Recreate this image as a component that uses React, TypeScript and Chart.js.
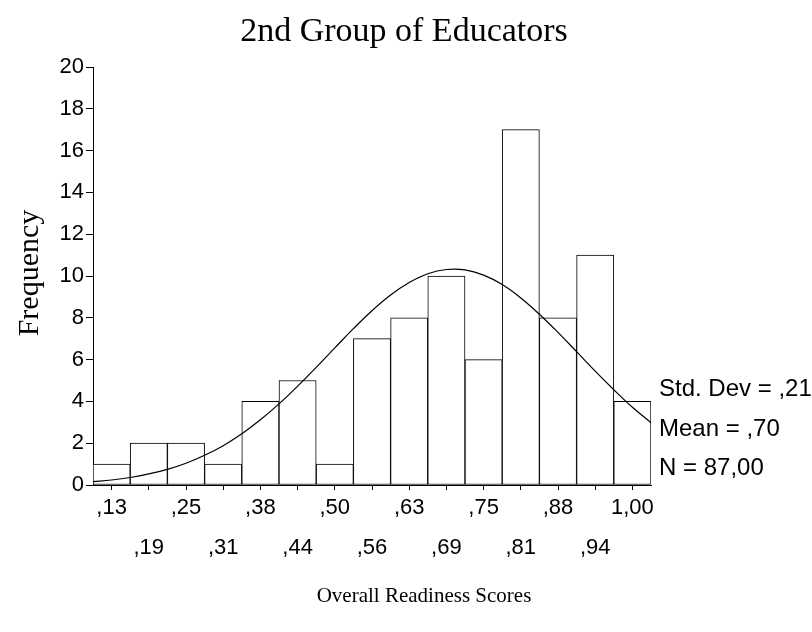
import React, { useEffect, useRef } from "react";
import { Chart, registerables } from "chart.js";

Chart.register(...registerables);

// Histogram bins (bin centres) and frequencies
const binCenters = [0.125, 0.1875, 0.25, 0.3125, 0.375, 0.4375, 0.5, 0.5625, 0.625, 0.6875, 0.75, 0.8125, 0.875, 0.9375, 1.0];
const frequencies = [1, 2, 2, 1, 4, 5, 1, 7, 8, 10, 6, 17, 8, 11, 4];
const xTickLabels = [",13", ",19", ",25", ",31", ",38", ",44", ",50", ",56", ",63", ",69", ",75", ",81", ",88", ",94", "1,00"];
const yTickValues = [0, 2, 4, 6, 8, 10, 12, 14, 16, 18, 20];

// Normal curve
const curveX = [0.09375, 0.125, 0.15625, 0.1875, 0.21875, 0.25, 0.28125, 0.3125, 0.34375, 0.375, 0.40625, 0.4375, 0.46875, 0.5, 0.53125, 0.5625, 0.59375, 0.625, 0.65625, 0.6875, 0.71875, 0.75, 0.78125, 0.8125, 0.84375, 0.875, 0.90625, 0.9375, 0.96875, 1.0, 1.03125];
const curveY = [0.16, 0.24, 0.36, 0.53, 0.75, 1.04, 1.42, 1.88, 2.45, 3.12, 3.88, 4.73, 5.63, 6.56, 7.48, 8.34, 9.09, 9.69, 10.11, 10.31, 10.29, 10.04, 9.59, 8.95, 8.17, 7.3, 6.38, 5.45, 4.56, 3.72, 2.98];

const chartTitle = "2nd Group of Educators";
const xTitle = "Overall Readiness Scores";
const yTitle = "Frequency";
const statsLines = ["Std. Dev = ,21", "Mean = ,70", "N = 87,00"];

const xMin = 0.09375;
const xMax = 1.03125;

const textPlugin = {
  id: "textPlugin",
  afterDraw(chart: any) {
    const ctx = chart.ctx;
    ctx.save();
    ctx.fillStyle = "#000";
    ctx.textBaseline = "alphabetic";
    ctx.font = "34px 'Liberation Serif', 'Times New Roman', serif";
    ctx.textAlign = "center";
    ctx.fillText(chartTitle, 404, 41);

    ctx.font = "21px 'Liberation Serif', 'Times New Roman', serif";
    ctx.fillText(xTitle, 424, 602);

    ctx.save();
    ctx.translate(38, 273);
    ctx.rotate(-Math.PI / 2);
    ctx.font = "30px 'Liberation Serif', 'Times New Roman', serif";
    ctx.textAlign = "center";
    ctx.fillText(yTitle, 0, 0);
    ctx.restore();

    ctx.font = "24px 'Liberation Sans', Arial, sans-serif";
    ctx.textAlign = "left";
    const baselines = [396, 436, 475];
    statsLines.forEach((s, i) => ctx.fillText(s, 659, baselines[i]));
    ctx.restore();
  },
};

export default function App() {
  const ref = useRef<HTMLCanvasElement | null>(null);

  useEffect(() => {
    if (!ref.current) return;
    const chart = new Chart(ref.current, {
      type: "bar",
      data: {
        datasets: [
          {
            type: "line",
            data: curveX.map((x, i) => ({ x, y: curveY[i] })),
            borderColor: "#000",
            borderWidth: 1.2,
            pointRadius: 0,
            fill: false,
            tension: 0.4,
            order: 0,
          } as any,
          {
            type: "bar",
            data: binCenters.map((x, i) => ({ x, y: frequencies[i] })),
            backgroundColor: "#fff",
            borderColor: "#000",
            borderWidth: 1,
            borderSkipped: false,
            barPercentage: 1,
            categoryPercentage: 1,
            order: 1,
          } as any,
        ],
      },
      options: {
        responsive: false,
        animation: false,
        layout: { padding: { left: 0, top: 67, right: 161, bottom: 0 } },
        plugins: { legend: { display: false }, title: { display: false }, tooltip: { enabled: false } },
        scales: {
          x: {
            type: "linear",
            min: xMin,
            max: xMax,
            offset: false,
            grid: { display: true, drawOnChartArea: false, drawTicks: true, tickLength: 5, color: "#000", offset: false },
            border: { display: true, color: "#000", width: 1 },
            afterBuildTicks: (scale: any) => {
              scale.ticks = binCenters.map((v) => ({ value: v }));
            },
            afterFit: (scale: any) => {
              scale.height = 147;
            },
            ticks: {
              autoSkip: false,
              maxRotation: 0,
              minRotation: 0,
              padding: -2,
              color: "#000",
              font: { family: "'Liberation Sans', Arial, sans-serif", size: 22, lineHeight: 1.82 },
              callback: (_v: any, i: number) => (i % 2 === 0 ? xTickLabels[i] : ["", xTickLabels[i]]),
            },
          },
          y: {
            type: "linear",
            min: 0,
            max: 20,
            grid: { display: true, drawOnChartArea: false, drawTicks: true, tickLength: 7, color: "#000" },
            border: { display: true, color: "#000", width: 1 },
            afterBuildTicks: (scale: any) => {
              scale.ticks = yTickValues.map((v) => ({ value: v }));
            },
            afterFit: (scale: any) => {
              scale.width = 93;
            },
            ticks: {
              padding: 2,
              color: "#000",
              font: { family: "'Liberation Sans', Arial, sans-serif", size: 22 },
              callback: (v: any) => String(v),
            },
          },
        },
      },
      plugins: [textPlugin],
    });
    return () => chart.destroy();
  }, []);

  return (
    <canvas
      ref={ref}
      width={812}
      height={632}
      style={{ position: "absolute", left: 0, top: 0, width: 812, height: 632 }}
    />
  );
}
